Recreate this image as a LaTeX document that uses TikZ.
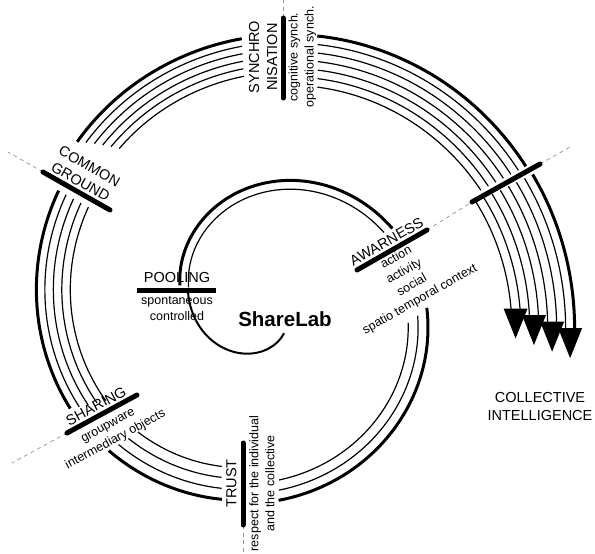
\documentclass[tikz,border=0pt]{standalone}
\usepackage{fontspec}
\setmainfont{Liberation Sans}
\usetikzlibrary{calc}

\tikzset{
  coreline/.style={line width=2pt},
  marker/.style={line width=5pt, line cap=round},
  guide/.style={line width=0.7pt, gray!85, dash pattern=on 4pt off 3.5pt},
  titletext/.style={font=\fontsize{14.5}{18}\selectfont, align=center, inner sep=0pt},
  subtext/.style={font=\fontsize{12.5}{16}\selectfont, align=center, inner sep=0pt},
}

% centre of the spiral (y grows downwards)
\def\cx{265}
\def\cy{305}

% \band{lines}{spacing}{r0}{slope}{start outer}{start inner}{end outer}{end inner}
% nested spiral arcs r = r0 + slope*phi - k*spacing (phi clockwise, degrees);
% the outermost arc of a band is the heavy one
\newcommand\band[8]{%
  \foreach \k in {1,...,#1}{%
    \pgfmathsetmacro\off{(\k-1)*#2}%
    \pgfmathsetmacro\fr{(\k-1)/max(#1-1,1)}%
    \pgfmathsetmacro\ps{#5+(#6-#5)*\fr}%
    \pgfmathsetmacro\pe{#7+(#8-#7)*\fr}%
    \ifnum\k=1 \def\lw{3}\else\def\lw{1.2}\fi
    \draw[line width=\lw pt] plot[domain=\ps:\pe, samples=90, variable=\t]
      ({\cx+(#3+#4*\t-\off)*cos(\t)}, {\cy+(#3+#4*\t-\off)*sin(\t)});
  }%
}

\begin{document}
\begin{tikzpicture}[x=1pt, y=-1pt]
\useasboundingbox (0,0) rectangle (595,554);

% ---- the spiral -------------------------------------------------------
% core line leaving ShareLab
\draw[coreline] plot[domain=-304:-170, samples=90, variable=\t]
  ({\cx+(134.3+0.33*\t)*cos(\t)}, {\cy+(134.3+0.33*\t)*sin(\t)});
% bands between the stations, one line more after each
\band{2}{9}{162.5}{0.45}{-167}{-167}{-31}{-31.4}
\band{3}{10}{161.4}{0.4}{1}{7}{86}{85.4}
\band{4}{11}{156}{0.42}{102.5}{105}{137}{135}
\band{5}{8.5}{179.5}{0.27}{152}{149}{209}{209}
\band{6}{7.5}{156}{0.42}{221}{227}{265}{264.7}
\band{7}{8.5}{156}{0.42}{281}{283.5}{332}{332}

% last band: eight lines running into four arrow heads
\foreach \k in {0,...,7}{%
  \pgfmathsetmacro\off{\k*9}%
  \pgfmathtruncatemacro\p{int(\k/2)}%
  \pgfmathsetmacro\yb{329-6.5*\p}%
  \pgfmathsetmacro\rr{157.5+0.42*360-\off}%
  \pgfmathsetmacro\pe{360+asin((\yb-\cy)/\rr)}%
  \pgfmathsetmacro\ex{\cx+(157.5+0.42*\pe-\off)*cos(\pe)}%
  \pgfmathsetmacro\ey{\cy+(157.5+0.42*\pe-\off)*sin(\pe)}%
  \coordinate (end\k) at (\ex,\ey);
  \ifnum\k=0 \def\lw{3}\else\def\lw{1.2}\fi
  \draw[line width=\lw pt] plot[domain=334:\pe, samples=40, variable=\t]
    ({\cx+(157.5+0.42*\t-\off)*cos(\t)}, {\cy+(157.5+0.42*\t-\off)*sin(\t)});
}
\foreach \a/\b in {0/1,2/3,4/5,6/7}{%
  \coordinate (base\a) at ($(end\a)!0.5!(end\b)$);
  \fill ($(base\a)+(-12,-1)$) -- ($(base\a)+(12,-1)$) -- ($(base\a)+(0,29)$) -- cycle;
}

% ---- station markers and guides ----------------------------------------
\coordinate (poA) at (137,290);  \coordinate (poB) at (216,290);
\coordinate (awA) at (357,270);  \coordinate (awB) at (427,230);
\coordinate (ciA) at (472,202);  \coordinate (ciB) at (540,164);
\coordinate (ciG) at (570,147);
\coordinate (trA) at (243,443);  \coordinate (trB) at (243,525);
\coordinate (trG) at (243,554);
\coordinate (shA) at (67,433);   \coordinate (shB) at (137,395);
\coordinate (shG) at (12,463);
\coordinate (cgA) at (43,172);   \coordinate (cgB) at (110,210);
\coordinate (cgG) at (8,152);
\coordinate (syA) at (283,18);   \coordinate (syB) at (283,98);
\coordinate (syG) at (283,0);

\draw[guide] (awB) -- (ciA);
\draw[guide] (ciB) -- (ciG);
\draw[guide] (trB) -- (trG);
\draw[guide] (shA) -- (shG);
\draw[guide] (cgA) -- (cgG);
\draw[guide] (syA) -- (syG);

\draw[marker, line cap=butt] (poA) -- (poB);
\draw[marker] (awA) -- (awB);
\draw[marker] (ciA) -- (ciB);
\draw[marker] (trA) -- (trB);
\draw[marker] (shA) -- (shB);
\draw[marker] (cgA) -- (cgB);
\draw[marker] (syA) -- (syB);

% ---- labels ------------------------------------------------------------
\node[titletext] (pool) at (177,277.5) {POOLING};
\node[subtext] (poolsub) at (177,308.5) {spontaneous\\controlled};

\node[titletext, rotate=29.5] (aware) at (386.5,241.5) {AWARNESS};
\node[subtext, rotate=29.5] (awaresub) at (408.2,278.7)
  {action\\activity\\social\\spatio temporal context};

\node[titletext, rotate=90] (trust) at (231.5,483.5) {TRUST};
\node[subtext, rotate=90] (trustsub) at (262,483.5)
  {respect for the individual\\and the collective};

\node[titletext, rotate=28.5] (share) at (96,406) {SHARING};
\node[subtext, rotate=28.5] (sharesub) at (112.3,433.6)
  {groupware\\intermediary objects};

\node[titletext, rotate=-29.5] (common) at (85,174) {COMMON\\GROUND};

\node[titletext, rotate=90] (synch) at (263.2,57) {SYNCHRO\\NISATION};
\node[subtext, rotate=90] (synchsub) at (302.5,57)
  {cognitive synch.\\operational synch.};

\node[font=\fontsize{20.5}{24}\selectfont\bfseries, inner sep=0pt] (lab) at (285,319.5) {ShareLab};

\node[titletext] (goal) at (540,407) {COLLECTIVE\\INTELLIGENCE};
\end{tikzpicture}
\end{document}
